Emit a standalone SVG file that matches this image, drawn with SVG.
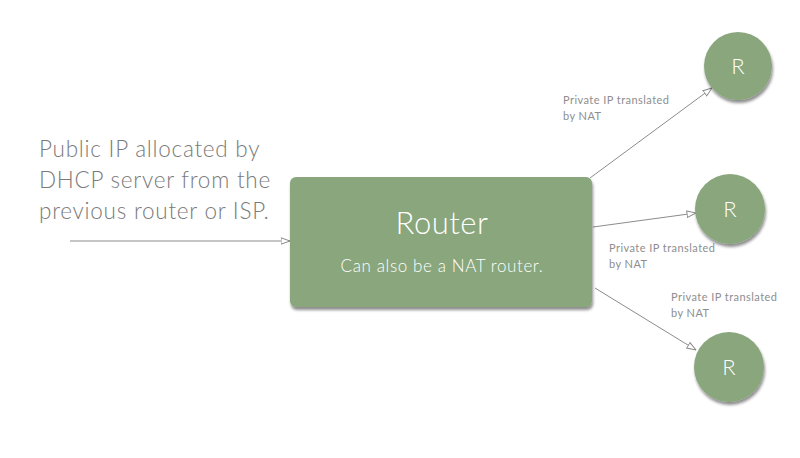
<svg xmlns="http://www.w3.org/2000/svg" width="800" height="458" viewBox="0 0 800 458">
<style>
.node{fill:#89a67c}
.lbl{font-family:Lato,"Noto Sans",sans-serif;fill:#8e8e8e;font-size:11px;letter-spacing:0.45px}
.big{font-family:Lato,"Noto Sans",sans-serif;font-weight:300;fill:#7a7a7a;font-size:22.5px;letter-spacing:0.75px}
.wt{font-family:Lato,"Noto Sans",sans-serif;fill:#ffffff;text-anchor:middle}
.edge{stroke:#8c8c8c;stroke-width:1;fill:none;marker-end:url(#arr)}
</style>
<defs>
<marker id="arr" viewBox="0 0 10 8" refX="9.5" refY="4" markerWidth="10" markerHeight="8" markerUnits="userSpaceOnUse" orient="auto">
<path d="M0.5,0.8 L9.5,4 L0.5,7.2 Z" fill="#ffffff" stroke="#8c8c8c" stroke-width="1"/>
</marker>
<filter id="sh" x="-20%" y="-20%" width="140%" height="150%">
<feGaussianBlur in="SourceAlpha" stdDeviation="1.6"/>
<feOffset dx="1" dy="2.5" result="b"/>
<feComponentTransfer><feFuncA type="linear" slope="0.45"/></feComponentTransfer>
<feMerge><feMergeNode/><feMergeNode in="SourceGraphic"/></feMerge>
</filter>
</defs>
<rect width="800" height="458" fill="#ffffff"/>
<g id="connectors">
<line class="edge" x1="70" y1="241" x2="290" y2="241"/>
<line class="edge" x1="590" y1="178" x2="712" y2="88"/>
<line class="edge" x1="593" y1="227" x2="696" y2="213"/>
<line class="edge" x1="595" y1="288" x2="696" y2="350"/>
</g>
<g id="input-label">
<text class="big" x="39" y="157">Public IP allocated by</text>
<text class="big" x="39" y="188">DHCP server from the</text>
<text class="big" x="39" y="219">previous router or ISP.</text>
</g>
<g id="router">
<rect class="node" x="290" y="177" width="302" height="130" rx="6" filter="url(#sh)"/>
<text class="wt" x="442" y="234" font-size="31" font-weight="300" letter-spacing="0.5">Router</text>
<text class="wt" x="442" y="272" font-size="17" font-weight="300" letter-spacing="0.6">Can also be a NAT router.</text>
</g>
<g id="r1">
<circle class="node" cx="738" cy="66" r="34" filter="url(#sh)"/>
<text class="wt" x="738" y="74" font-size="22" font-weight="300">R</text>
</g>
<g id="r2">
<circle class="node" cx="730" cy="209" r="35" filter="url(#sh)"/>
<text class="wt" x="730" y="217" font-size="22" font-weight="300">R</text>
</g>
<g id="r3">
<circle class="node" cx="729" cy="367" r="35" filter="url(#sh)"/>
<text class="wt" x="729" y="375" font-size="22" font-weight="300">R</text>
</g>
<g id="edge-labels">
<text class="lbl" x="563" y="104">Private IP translated</text>
<text class="lbl" x="563" y="120">by NAT</text>
<text class="lbl" x="609" y="252">Private IP translated</text>
<text class="lbl" x="609" y="268">by NAT</text>
<text class="lbl" x="671" y="301">Private IP translated</text>
<text class="lbl" x="671" y="317">by NAT</text>
</g>
</svg>
